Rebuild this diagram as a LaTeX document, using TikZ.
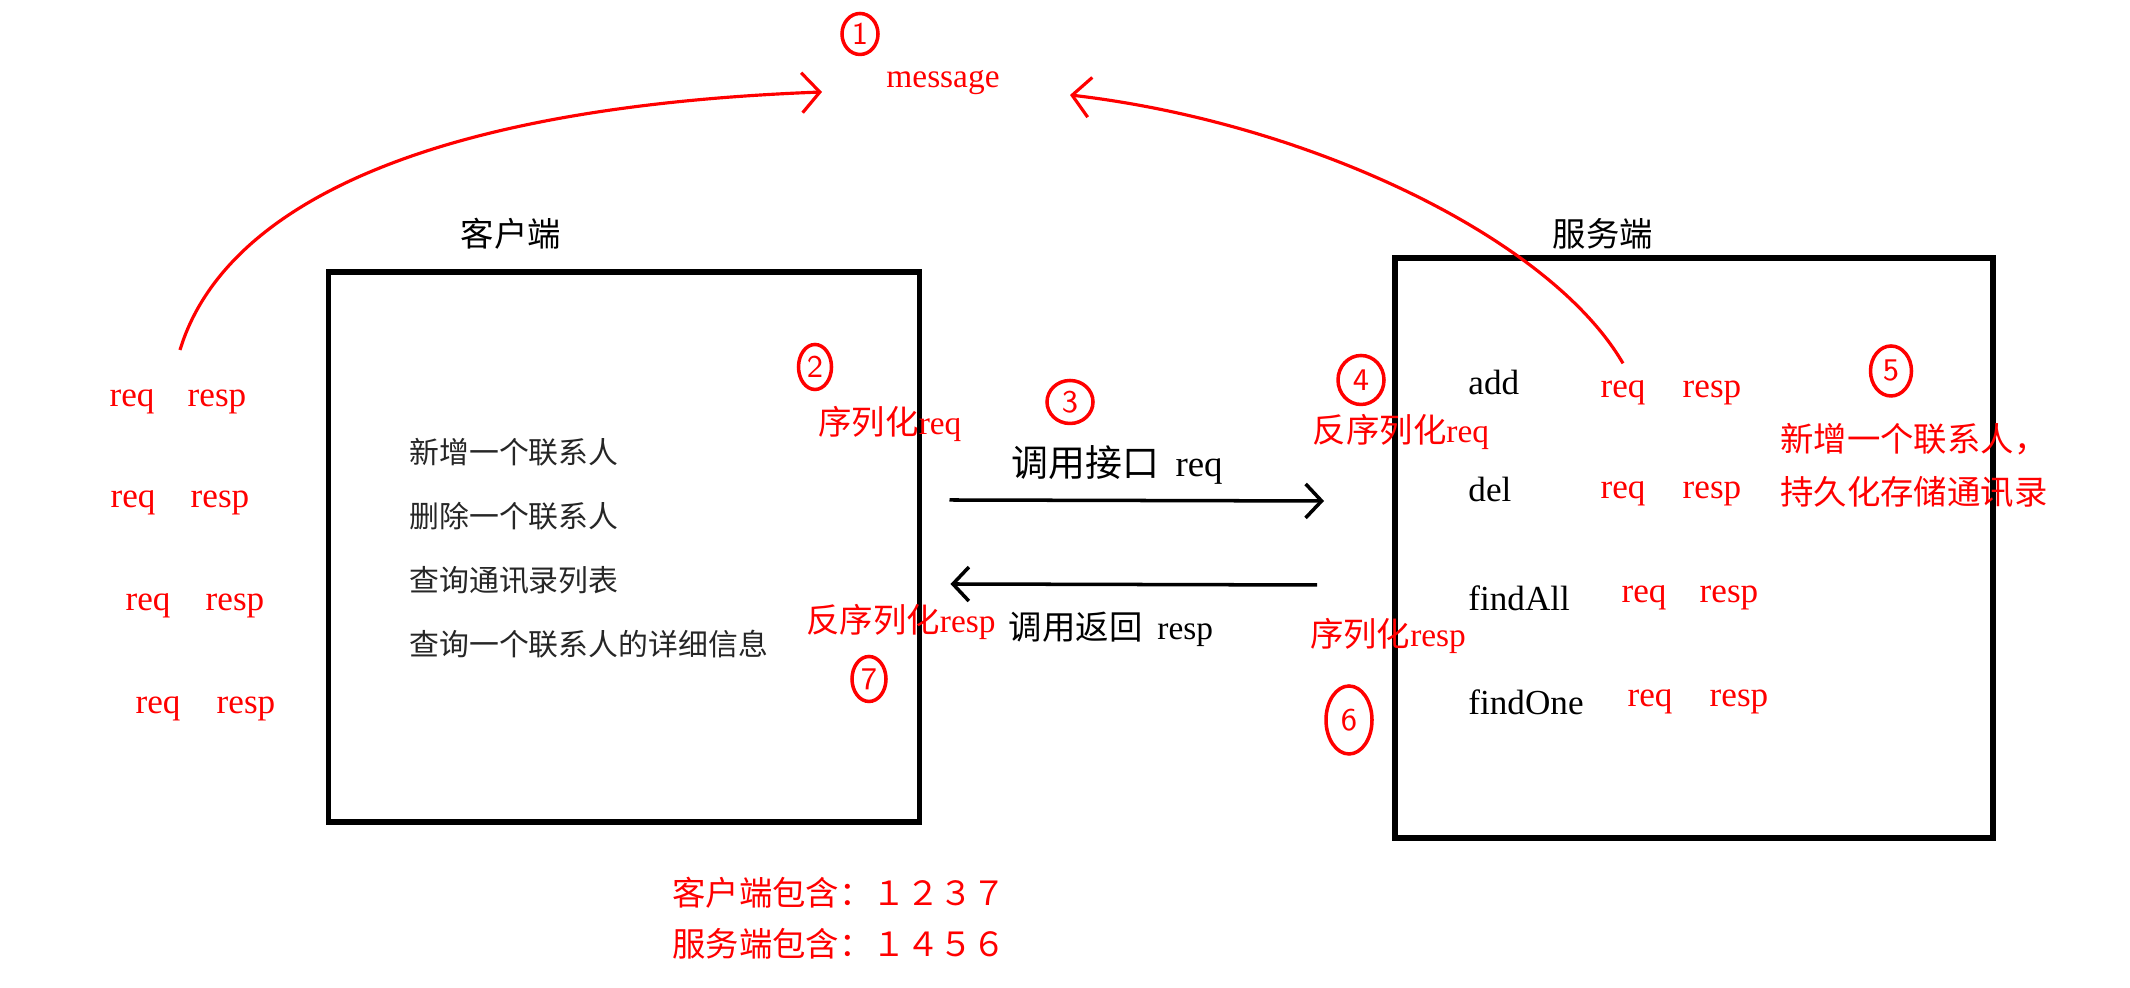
\documentclass[tikz,border=0pt]{standalone}
\usepackage{fontspec}
\setmainfont{Liberation Serif}
\newfontfamily\cjk{Noto Sans CJK SC}
\usetikzlibrary{shapes.geometric, arrows.meta, calc}

\begin{document}
\begin{tikzpicture}[
    % Define styles
    panel/.style={
        draw=black,
        line width=1.7pt,
        inner sep=0pt
    },
    title/.style={
        font=\fontsize{9.5}{11}\cjk,
        text=black
    },
    item/.style={
        font=\fontsize{8.5}{10}\cjk,
        text=black!85,
        anchor=west
    },
    method/.style={
        font=\fontsize{10}{12}\selectfont,
        text=black,
        anchor=west
    },
    pair/.style={
        font=\fontsize{10}{12}\selectfont,
        text=red
    },
    note/.style={
        font=\fontsize{9.5}{11}\selectfont,
        text=red
    },
    num/.style={
        ellipse,
        draw=red,
        line width=1pt,
        text=red,
        inner sep=0pt,
        font=\sffamily\fontsize{9}{10}\selectfont
    },
    call/.style={
        -{Straight Barb[length=1.6mm, width=3.4mm]},
        line width=1pt,
        black
    },
    flow/.style={
        -{Straight Barb[length=1.8mm, width=4mm]},
        line width=0.9pt,
        red
    }
]
\useasboundingbox (0,0) rectangle (21.30,9.88);

% ============================================================
% Message (top)
% ============================================================
\node[num, minimum width=0.36cm, minimum height=0.41cm] (n1) at (8.60, 9.54) {1};
\node[note] (msg) at (9.43, 9.05) {message};
\coordinate (msg_in_l) at (8.22, 8.96);
\coordinate (msg_in_r) at (10.70, 8.93);

% ============================================================
% Client side
% ============================================================
\node[title] (client_title) at (5.11, 7.54) {客户端};
\node[panel, minimum width=5.91cm, minimum height=5.50cm] (client_box) at (6.24, 4.41) {};

\node[item] (c_add) at (3.97, 5.357) {新增一个联系人};
\node[item] (c_del) at (3.97, 4.718) {删除一个联系人};
\node[item] (c_list) at (3.97, 4.080) {查询通讯录列表};
\node[item] (c_one) at (3.97, 3.441) {查询一个联系人的详细信息};

\node[num, minimum width=0.33cm, minimum height=0.45cm] (n2) at (8.15, 6.21) {2};
\node[note] (ser_req) at (8.90, 5.64) {{\cjk 序列化}req};
\node[num, minimum width=0.34cm, minimum height=0.45cm] (n7) at (8.69, 3.09) {7};
\node[note] (deser_resp) at (9.01, 3.66) {{\cjk 反序列化}resp};

% req / resp pairs (left)
\node[pair] (l_req1) at (1.32, 5.86) {req};
\node[pair] (l_resp1) at (2.17, 5.86) {resp};
\node[pair] (l_req2) at (1.33, 4.85) {req};
\node[pair] (l_resp2) at (2.20, 4.85) {resp};
\node[pair] (l_req3) at (1.48, 3.82) {req};
\node[pair] (l_resp3) at (2.35, 3.82) {resp};
\node[pair] (l_req4) at (1.58, 2.79) {req};
\node[pair] (l_resp4) at (2.46, 2.79) {resp};
\coordinate (left_start) at (1.80, 6.38);

% ============================================================
% Calls between the two sides
% ============================================================
\node[num, minimum width=0.46cm, minimum height=0.43cm] (n3) at (10.70, 5.86) {3};
\node[title, font=\fontsize{10.5}{12}\cjk] (call_req) at (11.17, 5.23) {调用接口\ \ {\rmfamily req}};
\node[title] (call_resp) at (11.11, 3.59) {调用返回\ \ {\rmfamily resp}};

% ============================================================
% Server side
% ============================================================
\node[title] (server_title) at (16.03, 7.54) {服务端};
\node[panel, minimum width=5.98cm, minimum height=5.80cm] (server_box) at (16.94, 4.40) {};

\node[num, minimum width=0.46cm, minimum height=0.49cm] (n4) at (13.61, 6.08) {4};
\node[note] (deser_req) at (14.01, 5.56) {{\cjk 反序列化}req};
\node[num, minimum width=0.46cm, minimum height=0.68cm] (n6) at (13.49, 2.68) {6};
\node[note] (ser_resp) at (13.88, 3.52) {{\cjk 序列化}resp};

\node[method] (add) at (14.56, 6.06) {add};
\node[method] (del) at (14.56, 4.99) {del};
\node[method] (find_all) at (14.56, 3.90) {findAll};
\node[method] (find_one) at (14.56, 2.86) {findOne};

\node[pair] (add_req) at (16.23, 5.95) {req};
\node[pair] (add_resp) at (17.12, 5.95) {resp};
\node[pair] (del_req) at (16.23, 4.94) {req};
\node[pair] (del_resp) at (17.12, 4.94) {resp};
\node[pair] (all_req) at (16.44, 3.90) {req};
\node[pair] (all_resp) at (17.29, 3.90) {resp};
\node[pair] (one_req) at (16.50, 2.86) {req};
\node[pair] (one_resp) at (17.39, 2.86) {resp};

\node[num, minimum width=0.41cm, minimum height=0.50cm] (n5) at (18.91, 6.17) {5};
\node[note, anchor=west] (store1) at (17.68, 5.49) {\cjk 新增一个联系人，};
\node[note, anchor=west] (store2) at (17.68, 4.96) {\cjk 持久化存储通讯录};

% ============================================================
% Summary (bottom)
% ============================================================
\node[note, anchor=west] (sum_client) at (6.60, 0.955) {\cjk 客户端包含：１２３７};
\node[note, anchor=west] (sum_server) at (6.60, 0.439) {\cjk 服务端包含：１４５６};

% ============================================================
% Connections
% ============================================================
\draw[call] ([shift={(0.27,0.47)}]client_box.east) -- ([shift={(-0.68,0.47)}]server_box.west);
\draw[call] ([shift={(-0.75,-0.37)}]server_box.west) -- ([shift={(0.28,-0.37)}]client_box.east);

\draw[flow] (left_start) .. controls (2.2,7.7) and (4.0,8.8) .. (msg_in_l);
\draw[flow] ([yshift=0.5mm]add_req.north) .. controls (15.5,7.5) and (13.1,8.65) .. (msg_in_r);

\end{tikzpicture}
\end{document}
